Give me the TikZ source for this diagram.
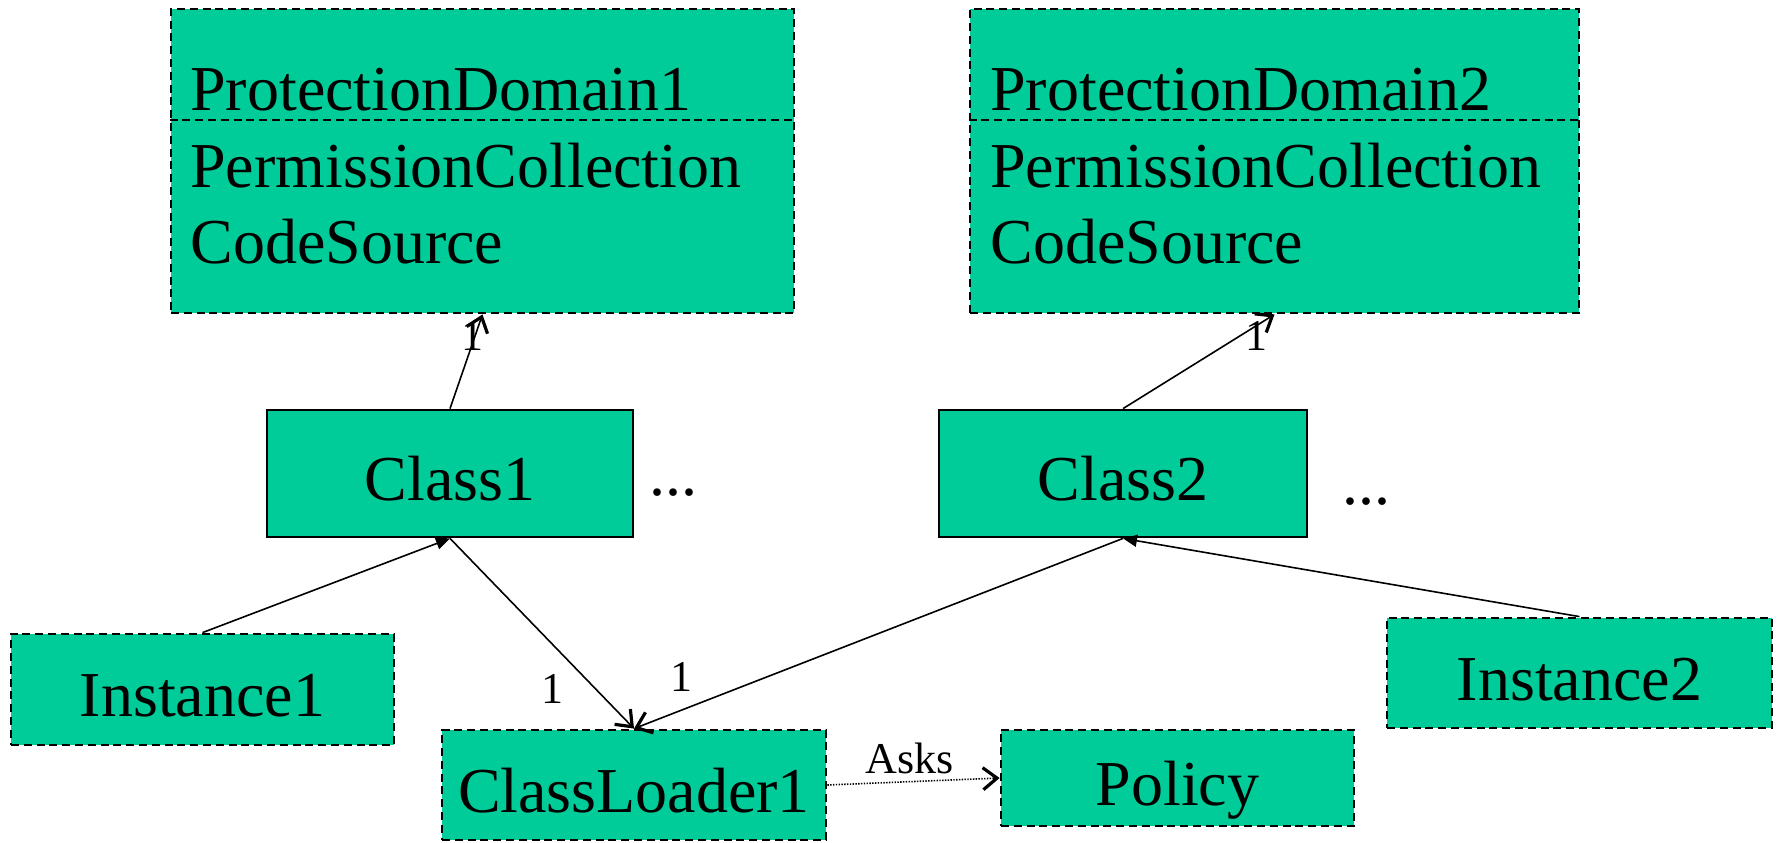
\documentclass[tikz,border=0pt]{standalone}
\usepackage{fontspec}
\setmainfont{Liberation Serif}
\usetikzlibrary{arrows.meta}
\definecolor{nodegreen}{RGB}{0,204,153}
\begin{document}
\begin{tikzpicture}[x=0.5pt,y=-0.5pt,
  box/.style={draw=black,line width=1.4pt,fill=nodegreen,inner sep=0pt,
              text height=27pt,text depth=0pt,
              font=\fontsize{32}{38}\selectfont},
  dbox/.style={box,dash pattern=on 4pt off 2.4pt},
  divider/.style={line width=1.4pt,dash pattern=on 4pt off 2.4pt},
  txt/.style={inner sep=0pt,font=\fontsize{32}{38}\selectfont},
  lbl/.style={inner sep=0pt,font=\fontsize{22}{26}\selectfont},
  link/.style={line width=0.8pt},
  openhead/.style={-{Straight Barb[length=7pt,width=11pt,line width=1.6pt]}},
  solidhead/.style={-{Triangle[length=7pt,width=6pt]}},
]
\useasboundingbox (0,0) rectangle (1779,842);

% protection domains
\node[dbox,minimum width=311.5pt,minimum height=152pt] (pd1) at (482.5,161) {};
\node[dbox,minimum width=304.5pt,minimum height=152pt] (pd2) at (1274.5,161) {};
\coordinate (divy) at (0,120);
\draw[divider] (pd1.west |- divy) -- (pd1.east |- divy);
\draw[divider] (pd2.west |- divy) -- (pd2.east |- divy);
\node[txt,anchor=base west] (pd1name) at (190,110) {ProtectionDomain1};
\node[txt,anchor=base west] (pd1perm) at (190,187) {PermissionCollection};
\node[txt,anchor=base west] (pd1code) at (190,263) {CodeSource};
\node[txt,anchor=base west] (pd2name) at (990,110) {ProtectionDomain2};
\node[txt,anchor=base west] (pd2perm) at (990,187) {PermissionCollection};
\node[txt,anchor=base west] (pd2code) at (990,263) {CodeSource};

% classes
\node[box,minimum width=183pt,minimum height=63.5pt] (class1) at (450,473.5) {Class1};
\node[box,minimum width=184pt,minimum height=63.5pt] (class2) at (1123,473.5) {Class2};
\node[txt,anchor=base] (more1) at (673,495) {...};
\node[txt,anchor=base] (more2) at (1366,504) {...};

% instances, loader, policy
\node[dbox,minimum width=191.5pt,minimum height=55.5pt] (inst1) at (202.5,689.5) {Instance1};
\node[dbox,minimum width=192.5pt,minimum height=55pt] (inst2) at (1579.5,673) {Instance2};
\node[dbox,minimum width=192pt,minimum height=55pt] (cl1) at (634,785) {ClassLoader1};
\node[dbox,minimum width=176.5pt,minimum height=48pt] (policy) at (1177.5,778) {Policy};

% connectors
\draw[link,openhead] (class1.north) -- (pd1.south);
\draw[link,openhead] (class2.north) -- (pd2.south);
\draw[link,solidhead] (inst1.north) -- (class1.south);
\draw[link,solidhead] (inst2.north) -- (class2.south);
\draw[link,openhead] (class1.south) -- (cl1.north);
\draw[link,openhead] (class2.south) -- (cl1.north);
\draw[link,openhead,dash pattern=on 0.7pt off 0.7pt] (cl1.east) -- (policy.west);

% multiplicities and labels
\node[lbl,anchor=base] (m1) at (472,350) {1};
\node[lbl,anchor=base] (m2) at (1256,350) {1};
\node[lbl,anchor=base] (m3) at (552,703) {1};
\node[lbl,anchor=base] (m4) at (681,691) {1};
\node[lbl,anchor=base] (asks) at (910,773) {Asks};
\end{tikzpicture}
\end{document}
